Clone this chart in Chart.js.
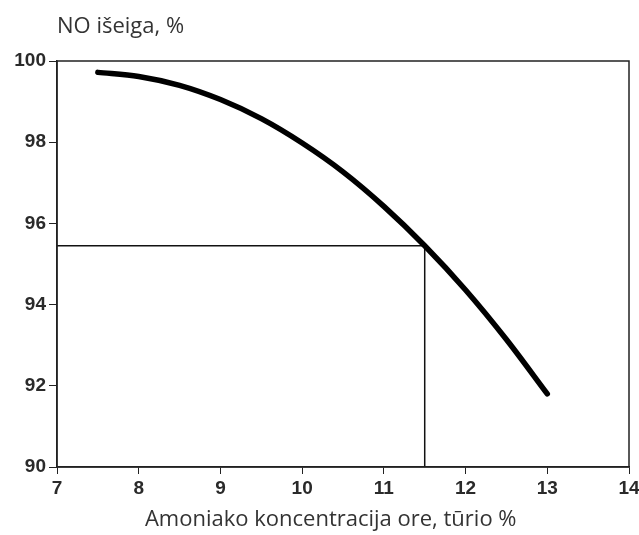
<!DOCTYPE html>
<html>
<head>
<meta charset="utf-8">
<script src="https://cdn.jsdelivr.net/npm/chart.js@4"></script>
<style>
  html, body { margin: 0; padding: 0; background: #fff; }
  #wrap { width: 639px; height: 535px; }
</style>
</head>
<body>
<div id="wrap"><canvas id="c" width="639" height="535"></canvas></div>
<script>
// NO išeiga pagal amoniako koncentraciją
const concentration = [7.5, 8, 8.5, 9, 9.5, 10, 10.5, 11, 11.5, 12, 12.5, 13];
const noYield = [99.72, 99.62, 99.40, 99.05, 98.58, 97.98, 97.27, 96.42, 95.45, 94.36, 93.14, 91.80];
// pagalbinės linijos (skaitymo pavyzdys)
const guideX = [7, 11.5, 11.5];
const guideY = [95.45, 95.45, 90];
const xTicks = [7, 8, 9, 10, 11, 12, 13, 14];
const yTicks = [90, 92, 94, 96, 98, 100];

const yTitle = 'NO išeiga, %';
const xTitle = 'Amoniako koncentracija ore, tūrio %';

const toPoints = (xs, ys) => xs.map((x, i) => ({ x: x, y: ys[i] }));

// rėmelis aplink braižymo sritį ir ašių pavadinimai
const framePlugin = {
    id: 'frame',
    afterDraw(chart) {
        const { ctx, chartArea } = chart;
        ctx.save();
        ctx.strokeStyle = '#222';
        ctx.lineWidth = 1.5;
        ctx.strokeRect(chartArea.left, chartArea.top, chartArea.right - chartArea.left, chartArea.bottom - chartArea.top);
        ctx.fillStyle = '#333';
        ctx.font = '22px "Open Sans"';
        ctx.textBaseline = 'middle';
        ctx.fillText(yTitle, chartArea.left, 27);
        // x ašies pavadinimas originale šiek tiek pasislinkęs į kairę
        ctx.textAlign = 'center';
        const xMid = chart.scales.x.getPixelForValue(10.35);
        ctx.fillText(xTitle, xMid, 520);
        ctx.restore();
    }
};

new Chart(document.getElementById('c'), {
    type: 'scatter',
    data: {
        datasets: [
            {
                data: toPoints(concentration, noYield),
                showLine: true,
                borderColor: '#000',
                borderWidth: 5.5,
                borderCapStyle: 'round',
                pointRadius: 0,
                tension: 0.4,
                cubicInterpolationMode: 'monotone'
            },
            {
                data: toPoints(guideX, guideY),
                showLine: true,
                borderColor: '#111',
                borderWidth: 1.5,
                pointRadius: 0,
                tension: 0
            }
        ]
    },
    options: {
        responsive: false,
        animation: false,
        layout: { padding: { top: 61, right: 10, left: 0, bottom: 0 } },
        plugins: {
            legend: { display: false },
            tooltip: { enabled: false }
        },
        scales: {
            x: {
                type: 'linear',
                min: 7,
                max: 14,
                afterBuildTicks: axis => { axis.ticks = xTicks.map(v => ({ value: v })); },
                afterFit: axis => { axis.height = 68; axis.paddingRight = 0; axis.paddingLeft = 0; },
                grid: { display: true, drawOnChartArea: false, drawTicks: true, tickLength: 7, color: '#222' },
                border: { display: true, color: '#222', width: 1.5 },
                ticks: { color: '#2a2a2a', font: { family: 'Liberation Sans', size: 19, weight: 'bold' }, padding: 3, maxRotation: 0 }
            },
            y: {
                type: 'linear',
                min: 90,
                max: 100,
                afterBuildTicks: axis => { axis.ticks = yTicks.map(v => ({ value: v })); },
                afterFit: axis => { axis.width = 57; },
                grid: { display: true, drawOnChartArea: false, drawTicks: true, tickLength: 8, color: '#222' },
                border: { display: true, color: '#222', width: 1.5 },
                ticks: { color: '#2a2a2a', font: { family: 'Liberation Sans', size: 19, weight: 'bold' }, padding: 3 }
            }
        }
    },
    plugins: [framePlugin]
});
</script>
</body>
</html>
